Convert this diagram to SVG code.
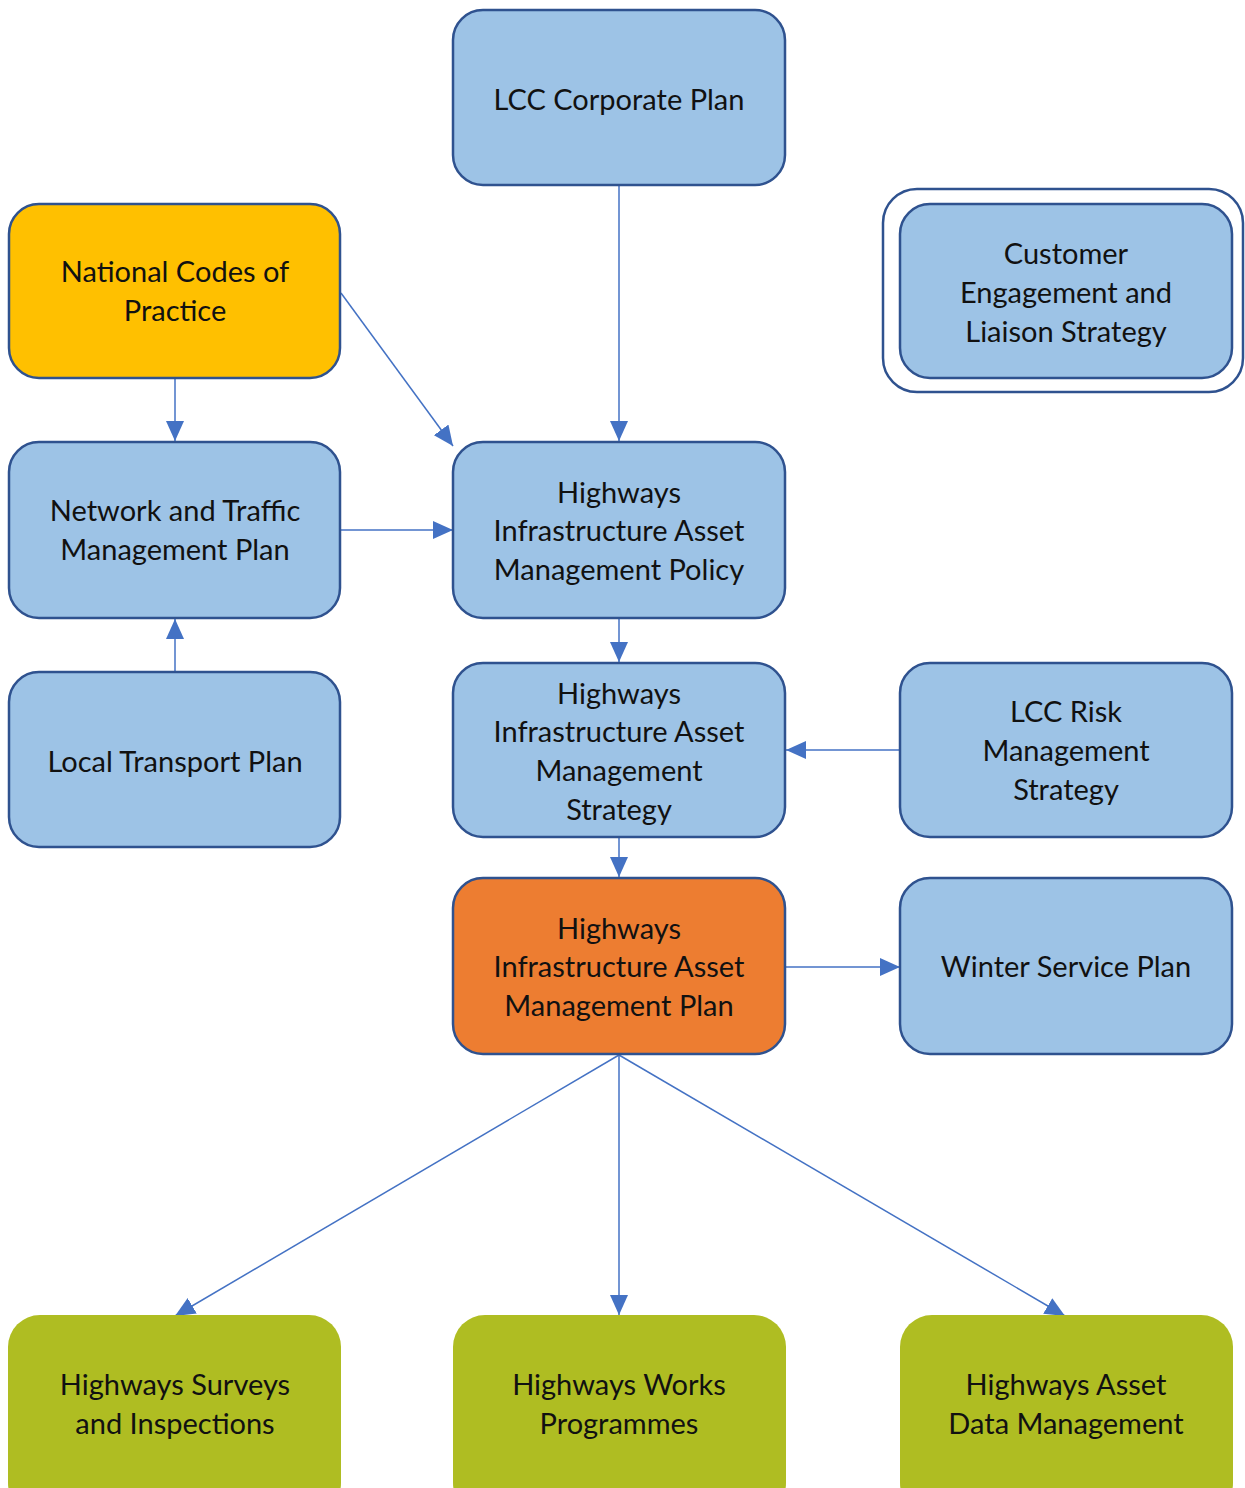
<svg xmlns="http://www.w3.org/2000/svg" width="1245" height="1488" viewBox="0 0 1245 1488">
<style>
.n{stroke:#2F528F;stroke-width:2.5}
.blue{fill:#9DC3E6}
.yellow{fill:#FFC000}
.orange{fill:#ED7D31}
.green{fill:#AFBD22;stroke:none}
.t{font-family:Lato,"Liberation Sans",sans-serif;font-size:29px;fill:#111;text-anchor:middle}
.c{stroke:#4472C4;stroke-width:1.5;fill:none;marker-end:url(#ah)}
</style>
<defs>
<marker id="ah" viewBox="0 0 20 18" refX="20" refY="9" markerWidth="20" markerHeight="18" markerUnits="userSpaceOnUse" orient="auto">
<path d="M0,0 L20,9 L0,18 Z" fill="#4472C4"/>
</marker>
</defs>
<rect width="1245" height="1488" fill="#fff"/>
<g id="connectors">
<line class="c" x1="619" y1="185" x2="619" y2="441"/>
<line class="c" x1="341" y1="293" x2="453" y2="446"/>
<line class="c" x1="175" y1="378" x2="175" y2="441"/>
<line class="c" x1="340" y1="530" x2="453" y2="530"/>
<line class="c" x1="175" y1="672" x2="175" y2="619"/>
<line class="c" x1="619" y1="618" x2="619" y2="662"/>
<line class="c" x1="900" y1="750" x2="786" y2="750"/>
<line class="c" x1="619" y1="837" x2="619" y2="877"/>
<line class="c" x1="785" y1="967" x2="900" y2="967"/>
<line class="c" x1="619" y1="1055" x2="175" y2="1316"/>
<line class="c" x1="619" y1="1055" x2="619" y2="1315"/>
<line class="c" x1="619" y1="1055" x2="1065" y2="1316"/>
</g>
<g id="lcc-corporate-plan">
<rect class="n blue" x="453" y="10" width="332" height="175" rx="30"/>
<text class="t" x="619" y="110">LCC Corporate Plan</text>
</g>
<g id="national-codes">
<rect class="n yellow" x="9" y="204" width="331" height="174" rx="30"/>
<text class="t" x="175" y="282">National Codes of</text>
<text class="t" x="175" y="321">Practice</text>
</g>
<g id="customer-engagement">
<rect fill="#fff" stroke="#2F528F" stroke-width="2.5" x="883" y="189" width="360" height="203" rx="34"/>
<rect class="n blue" x="900" y="204" width="332" height="174" rx="30"/>
<text class="t" x="1066" y="264">Customer</text>
<text class="t" x="1066" y="303">Engagement and</text>
<text class="t" x="1066" y="342">Liaison Strategy</text>
</g>
<g id="network-traffic">
<rect class="n blue" x="9" y="442" width="331" height="176" rx="30"/>
<text class="t" x="175" y="521">Network and Traffic</text>
<text class="t" x="175" y="560">Management Plan</text>
</g>
<g id="hiam-policy">
<rect class="n blue" x="453" y="442" width="332" height="176" rx="30"/>
<text class="t" x="619" y="503">Highways</text>
<text class="t" x="619" y="541">Infrastructure Asset</text>
<text class="t" x="619" y="580">Management Policy</text>
</g>
<g id="local-transport-plan">
<rect class="n blue" x="9" y="672" width="331" height="175" rx="30"/>
<text class="t" x="175" y="772">Local Transport Plan</text>
</g>
<g id="hiam-strategy">
<rect class="n blue" x="453" y="663" width="332" height="174" rx="30"/>
<text class="t" x="619" y="704">Highways</text>
<text class="t" x="619" y="742">Infrastructure Asset</text>
<text class="t" x="619" y="781">Management</text>
<text class="t" x="619" y="820">Strategy</text>
</g>
<g id="lcc-risk">
<rect class="n blue" x="900" y="663" width="332" height="174" rx="30"/>
<text class="t" x="1066" y="722">LCC Risk</text>
<text class="t" x="1066" y="761">Management</text>
<text class="t" x="1066" y="800">Strategy</text>
</g>
<g id="hiam-plan">
<rect class="n orange" x="453" y="878" width="332" height="176" rx="30"/>
<text class="t" x="619" y="939">Highways</text>
<text class="t" x="619" y="977">Infrastructure Asset</text>
<text class="t" x="619" y="1016">Management Plan</text>
</g>
<g id="winter-service">
<rect class="n blue" x="900" y="878" width="332" height="176" rx="30"/>
<text class="t" x="1066" y="977">Winter Service Plan</text>
</g>
<g id="surveys">
<rect class="green" x="8" y="1315" width="333" height="200" rx="32"/>
<text class="t" x="175" y="1395">Highways Surveys</text>
<text class="t" x="175" y="1434">and Inspections</text>
</g>
<g id="works">
<rect class="green" x="453" y="1315" width="333" height="200" rx="32"/>
<text class="t" x="619" y="1395">Highways Works</text>
<text class="t" x="619" y="1434">Programmes</text>
</g>
<g id="data-management">
<rect class="green" x="900" y="1315" width="333" height="200" rx="32"/>
<text class="t" x="1066" y="1395">Highways Asset</text>
<text class="t" x="1066" y="1434">Data Management</text>
</g>
</svg>
